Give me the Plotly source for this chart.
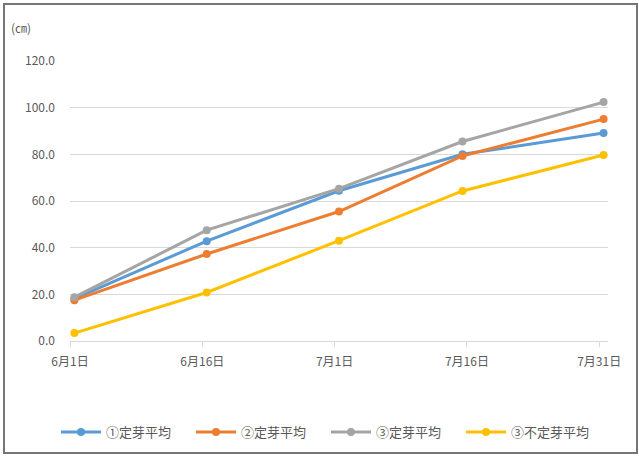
import plotly.graph_objects as go

# data
dates = ["2020-06-01 12:00", "2020-06-16 12:00", "2020-07-01 12:00", "2020-07-15 12:00", "2020-07-31 12:00"]
series_names = ["①定芽平均", "②定芽平均", "③定芽平均", "③不定芽平均"]
s1 = [18.2, 42.8, 64.4, 80.0, 89.1]
s2 = [17.5, 37.3, 55.5, 79.3, 95.1]
s3 = [18.8, 47.5, 65.3, 85.5, 102.4]
s4 = [3.4, 20.8, 43.0, 64.3, 79.7]
tick_dates = ["2020-06-01", "2020-06-16", "2020-07-01", "2020-07-16", "2020-07-31"]
tick_labels = ["6月1日", "6月16日", "7月1日", "7月16日", "7月31日"]
y_ticks = [0, 20, 40, 60, 80, 100, 120]

colors = ["#5B9BD5", "#ED7D31", "#A5A5A5", "#FFC000"]
FONT = "Noto Sans CJK JP"

fig = go.Figure()
for name, vals, c in zip(series_names, [s1, s2, s3, s4], colors):
    fig.add_trace(go.Scatter(
        x=dates, y=vals, name=name, mode="lines+markers",
        line=dict(color=c, width=3), marker=dict(color=c, size=8, symbol="circle"),
    ))

L, R, T, B = 70, 31, 61, 116
W, H = 639, 457
pw, ph = W - L - R, H - T - B

def px_x(x):
    return (x - L) / pw

def px_y(y):
    return (H - B - y) / ph

fig.update_layout(
    width=W, height=H,
    margin=dict(l=L, r=R, t=T, b=B, pad=0, autoexpand=False),
    paper_bgcolor="white", plot_bgcolor="white",
    font=dict(family=FONT, color="#595959", size=12),
    showlegend=True,
    legend=dict(orientation="h", x=px_x(326), xanchor="center", y=px_y(432), yanchor="middle",
                font=dict(size=13, color="#595959"), itemwidth=40, tracegroupgap=0,
                entrywidth=80, entrywidthmode="pixels"),
    xaxis=dict(type="date", range=["2020-06-01", "2020-08-01"],
               tickvals=tick_dates, ticktext=tick_labels,
               showgrid=False, showline=True, linecolor="#D9D9D9", linewidth=1,
               ticks="outside", ticklen=5, tickcolor="#D9D9D9", ticklabelstandoff=5,
               tickfont=dict(size=12, color="#595959"), zeroline=False),
    yaxis=dict(range=[0, 120], tickvals=y_ticks, tickformat=".1f",
               showgrid=True, gridcolor="#D9D9D9", gridwidth=1,
               zeroline=False, showline=False, ticklabelstandoff=14,
               tickfont=dict(size=12, color="#595959")),
    shapes=[dict(type="rect", xref="paper", yref="paper",
                 x0=px_x(4), x1=px_x(637), y0=px_y(453), y1=px_y(4),
                 line=dict(color="#767676", width=2), fillcolor="rgba(0,0,0,0)", layer="below")],
    annotations=[dict(text="(㎝)", xref="paper", yref="paper", x=px_x(9), y=px_y(28),
                      xanchor="left", yanchor="middle", showarrow=False,
                      font=dict(size=12, color="#595959"))],
)

fig.write_html("out.html")
